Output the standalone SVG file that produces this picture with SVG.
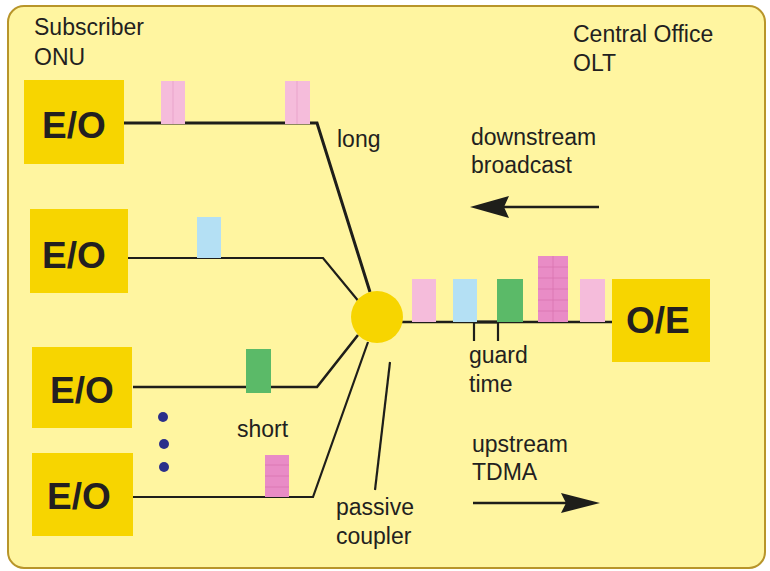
<svg xmlns="http://www.w3.org/2000/svg" width="770" height="571" viewBox="0 0 770 571">
<style>
.t{font-family:"Liberation Sans",Arial,sans-serif;font-size:23px;fill:#231F20}
.b{font-family:"Liberation Sans",Arial,sans-serif;font-size:37px;font-weight:bold;fill:#231F20}
.box{fill:#F7D500}
.ln{stroke:#1E1E1A;fill:none;stroke-linejoin:miter}
.pk{fill:#F5BCDB}
.bl{fill:#B4E0F4}
.gr{fill:#5BBA68}
.mg{fill:#E98CC6}
.fine{stroke:#E6A0C8;stroke-width:0.8}
.finem{stroke:#D873B0;stroke-width:0.8}
</style>
<rect x="8" y="6" width="757" height="562" rx="16" fill="#FFF5A0" stroke="#B8952A" stroke-width="2"/>

<g id="labels">
<text class="t" x="34" y="35">Subscriber</text>
<text class="t" x="34" y="65">ONU</text>
<text class="t" x="573" y="42">Central Office</text>
<text class="t" x="573" y="71">OLT</text>
<text class="t" x="337" y="147">long</text>
<text class="t" x="471" y="145">downstream</text>
<text class="t" x="471" y="173">broadcast</text>
<text class="t" x="237" y="437">short</text>
<text class="t" x="336" y="515">passive</text>
<text class="t" x="336" y="544">coupler</text>
<text class="t" x="469" y="363">guard</text>
<text class="t" x="469" y="392">time</text>
<text class="t" x="472" y="452">upstream</text>
<text class="t" x="472" y="480">TDMA</text>
</g>

<g id="connectors">
<polyline class="ln" stroke-width="3" points="124,123 317,123 370,292"/>
<polyline class="ln" stroke-width="2.2" points="124,258 323,258 360,303"/>
<polyline class="ln" stroke-width="2.6" points="133,387 317,387 358,335"/>
<polyline class="ln" stroke-width="2.2" points="126,497 313,497 368,342"/>
<line class="ln" stroke-width="2.2" x1="390" y1="362" x2="375" y2="490"/>
<line class="ln" stroke-width="2.6" x1="400" y1="322" x2="612" y2="322"/>
<line class="ln" stroke-width="2.2" x1="474" y1="322" x2="474" y2="341"/>
<line class="ln" stroke-width="2.2" x1="498" y1="322" x2="498" y2="341"/>
<line class="ln" stroke-width="3" x1="474" y1="322" x2="498" y2="322"/>
<line class="ln" stroke-width="2.6" x1="504" y1="207" x2="599" y2="207"/>
<polygon fill="#1E1E1A" points="509,196 470,207 509,218 504,207"/>
<line class="ln" stroke-width="2.6" x1="473" y1="503" x2="566" y2="503"/>
<polygon fill="#1E1E1A" points="561,493 600,503 561,513 566,503"/>
</g>

<g id="pulses">
<rect class="pk" x="161" y="81" width="24" height="43"/>
<line class="fine" x1="173" y1="81" x2="173" y2="124"/>
<rect class="pk" x="285" y="81" width="25" height="43"/>
<line class="fine" x1="297" y1="81" x2="297" y2="124"/>
<rect class="bl" x="197" y="217" width="24" height="41"/>
<rect class="gr" x="246" y="349" width="25" height="44"/>
<rect class="mg" x="265" y="455" width="24" height="42"/>
<g class="finem"><line x1="265" y1="465" x2="289" y2="465"/><line x1="265" y1="476" x2="289" y2="476"/><line x1="265" y1="487" x2="289" y2="487"/></g>
<rect class="pk" x="412" y="279" width="24" height="43"/>
<rect class="bl" x="453" y="279" width="24" height="43"/>
<rect class="gr" x="497" y="279" width="26" height="43"/>
<rect class="mg" x="538" y="256" width="30" height="66"/>
<g class="finem"><line x1="553" y1="256" x2="553" y2="322"/><line x1="538" y1="267" x2="568" y2="267"/><line x1="538" y1="278" x2="568" y2="278"/><line x1="538" y1="289" x2="568" y2="289"/><line x1="538" y1="300" x2="568" y2="300"/><line x1="538" y1="311" x2="568" y2="311"/></g>
<rect class="pk" x="580" y="279" width="25" height="43"/>
</g>

<g id="dots" fill="#2B2F8A">
<circle cx="163" cy="417" r="5"/>
<circle cx="164" cy="444" r="5"/>
<circle cx="164" cy="467" r="5"/>
</g>

<g id="onu1"><rect class="box" x="24" y="80" width="100" height="84"/><text class="b" x="42" y="138">E/O</text></g>
<g id="onu2"><rect class="box" x="30" y="209" width="98" height="84"/><text class="b" x="42" y="268">E/O</text></g>
<g id="onu3"><rect class="box" x="32" y="347" width="100" height="81"/><text class="b" x="50" y="403">E/O</text></g>
<g id="onu4"><rect class="box" x="32" y="453" width="101" height="83"/><text class="b" x="47" y="509">E/O</text></g>
<g id="coupler"><circle cx="377" cy="317" r="26" fill="#F7D500"/></g>
<g id="olt"><rect class="box" x="612" y="279" width="98" height="83"/><text class="b" x="626" y="333">O/E</text></g>
</svg>
